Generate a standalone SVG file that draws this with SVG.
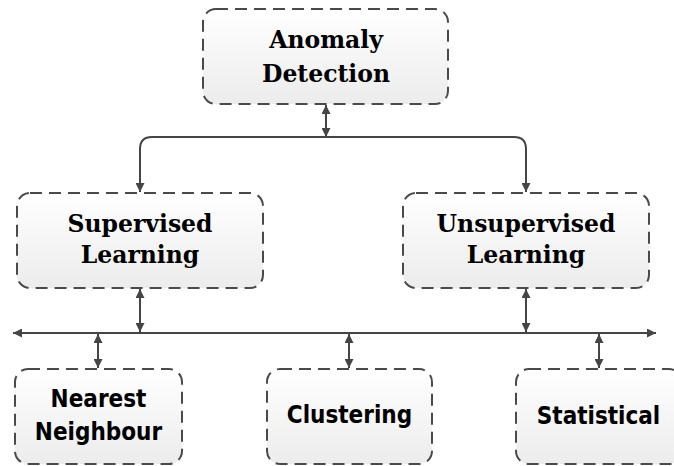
<svg xmlns="http://www.w3.org/2000/svg" width="674" height="466" viewBox="0 0 674 466">
<defs>
<linearGradient id="g" x1="0" y1="0" x2="0" y2="1">
<stop offset="0" stop-color="#ffffff"/>
<stop offset="1" stop-color="#ececec"/>
</linearGradient>
<marker id="ah" viewBox="0 0 10 10" refX="10" refY="5" markerWidth="9" markerHeight="9" markerUnits="userSpaceOnUse" orient="auto-start-reverse">
<path d="M0,0 L10,5 L0,10 Z" fill="#454545"/>
</marker>
</defs>
<style>
.box{fill:url(#g);stroke:#4a4a4a;stroke-width:2;stroke-dasharray:12 7}
.ser{font-family:"DejaVu Serif","Liberation Serif",serif;font-weight:bold;font-size:23.5px;fill:#000;text-anchor:middle}
.san{font-family:"DejaVu Sans Condensed","Liberation Sans Narrow","Liberation Sans",sans-serif;font-stretch:condensed;font-weight:bold;font-size:24px;fill:#000;text-anchor:middle}
.c{fill:none;stroke:#454545;stroke-width:2;marker-start:url(#ah);marker-end:url(#ah)}
</style>
<g id="connectors">
<path class="c" d="M326,105 V137"/>
<path class="c" d="M140,192 V149 Q140,137 152,137 H514 Q526,137 526,149 V192"/>
<path class="c" d="M13,333 H656"/>
<path class="c" d="M140,289 V332"/>
<path class="c" d="M526,289 V332"/>
<path class="c" d="M98,334 V368"/>
<path class="c" d="M349,334 V368"/>
<path class="c" d="M599,334 V368"/>
</g>
<g id="anomaly">
<rect class="box" x="203" y="9" width="245" height="95" rx="13"/>
<text class="ser" x="326" y="48">Anomaly</text>
<text class="ser" x="326" y="82">Detection</text>
</g>
<g id="supervised">
<rect class="box" x="17" y="193" width="246" height="95" rx="13"/>
<text class="ser" x="140" y="232">Supervised</text>
<text class="ser" x="140" y="263">Learning</text>
</g>
<g id="unsupervised">
<rect class="box" x="403" y="193" width="246" height="95" rx="13"/>
<text class="ser" x="526" y="232">Unsupervised</text>
<text class="ser" x="526" y="263">Learning</text>
</g>
<g id="nearest">
<rect class="box" x="15" y="369" width="167" height="95" rx="13"/>
<text class="san" x="98.5" y="407">Nearest</text>
<text class="san" x="98.5" y="440">Neighbour</text>
</g>
<g id="clustering">
<rect class="box" x="267" y="369" width="165" height="95" rx="13"/>
<text class="san" x="349.5" y="423">Clustering</text>
</g>
<g id="statistical">
<rect class="box" x="516" y="369" width="166" height="95" rx="13"/>
<text class="san" x="598.5" y="424">Statistical</text>
</g>
</svg>
